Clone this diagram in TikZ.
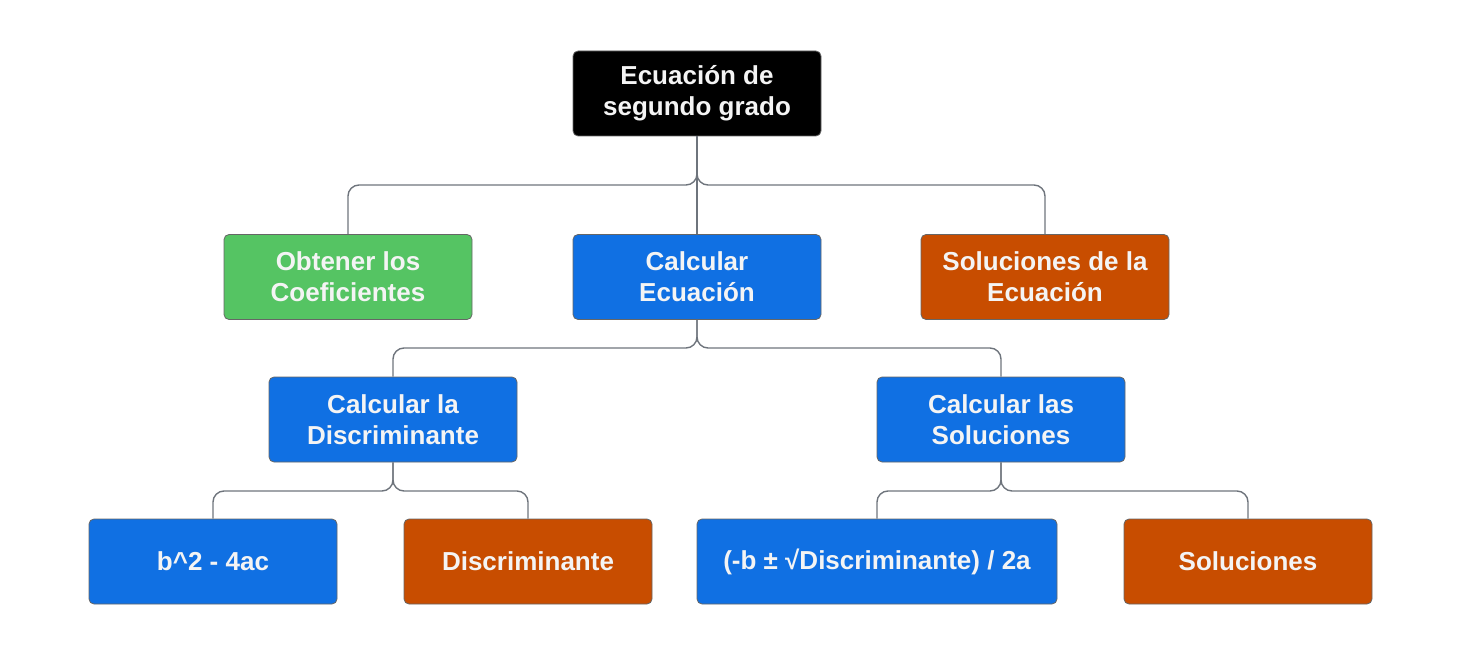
\documentclass[tikz,border=0pt]{standalone}
\usepackage{fontspec}
\setmainfont{Liberation Sans}
\definecolor{rootc}{HTML}{000000}
\definecolor{greenc}{HTML}{55C463}
\definecolor{bluec}{HTML}{1070E3}
\definecolor{orangec}{HTML}{C84D00}
\definecolor{linec}{HTML}{6E747C}
\definecolor{txtc}{HTML}{F4F4F4}
\begin{document}
\begin{tikzpicture}[x=1pt,y=-1pt,
  box/.style={rectangle, rounded corners=5pt, draw=black!60, line width=0.8pt,
    minimum width=248pt, minimum height=85pt, inner sep=0pt, align=center,
    text=txtc, font=\fontsize{26}{31}\selectfont\bfseries},
  rootbox/.style={box, fill=rootc},
  greenbox/.style={box, fill=greenc},
  bluebox/.style={box, fill=bluec},
  orangebox/.style={box, fill=orangec},
  conn/.style={draw=linec, line width=1.4pt, rounded corners=11pt}]
\useasboundingbox (0,0) rectangle (1460,658);
% level 1
\node[rootbox] (root) at (697,93.5) {Ecuación de\\segundo grado};
% level 2
\node[greenbox] (coef) at (348,277) {Obtener los\\Coeficientes};
\node[bluebox] (calc) at (697,277) {Calcular\\Ecuación};
\node[orangebox] (sol) at (1045,277) {Soluciones de la\\Ecuación};
% level 3
\node[bluebox] (disc) at (393,419.5) {Calcular la\\Discriminante};
\node[bluebox] (csol) at (1001,419.5) {Calcular las\\Soluciones};
% level 4
\node[bluebox] (form) at (213,561.5) {b\^{}2 - 4ac};
\node[orangebox] (discr) at (528,561.5) {Discriminante};
\node[bluebox, minimum width=360pt] (quad) at (877,561.5) {(-b ± √Discriminante) / 2a};
\node[orangebox] (sols) at (1248,561.5) {Soluciones};
% junction coordinates
\coordinate (j1) at (697,185);
\coordinate (j2) at (697,348);
\coordinate (j3) at (393,491);
\coordinate (j4) at (1001,491);
% connectors
\draw[conn] (root.south) -- (j1) -| (coef.north);
\draw[conn] (root.south) -- (j1) -| (sol.north);
\draw[conn] (root.south) -- (calc.north);
\draw[conn] (calc.south) -- (j2) -| (disc.north);
\draw[conn] (calc.south) -- (j2) -| (csol.north);
\draw[conn] (disc.south) -- (j3) -| (form.north);
\draw[conn] (disc.south) -- (j3) -| (discr.north);
\draw[conn] (csol.south) -- (j4) -| (quad.north);
\draw[conn] (csol.south) -- (j4) -| (sols.north);
\end{tikzpicture}
\end{document}
